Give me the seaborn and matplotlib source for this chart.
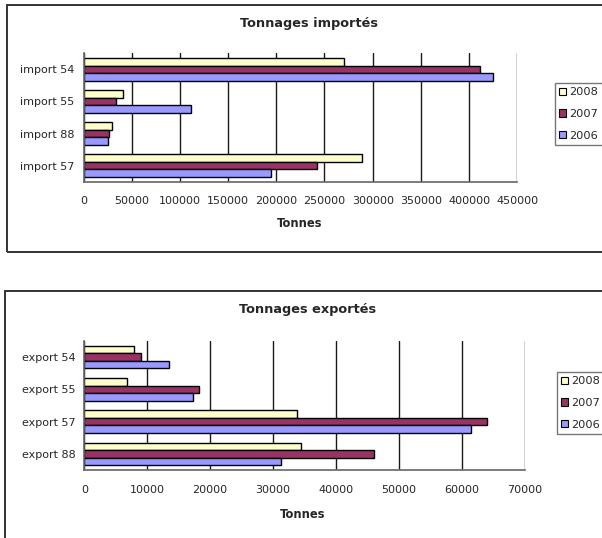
import matplotlib
matplotlib.use("Agg")
import matplotlib.pyplot as plt
from matplotlib.patches import Rectangle, Patch
import seaborn as sns
import pandas as pd

sns.set_style("white")
plt.rcParams["font.family"] = ["DejaVu Sans"]

# Tonnages data
years = ["2008", "2007", "2006"]
colors = {"2008": "#FFFFCC", "2007": "#993366", "2006": "#9999FF"}

import_sites = ["import 54", "import 55", "import 88", "import 57"]
import_2008 = [270500, 41000, 30000, 289000]
import_2007 = [411500, 34000, 26500, 242000]
import_2006 = [425000, 111500, 25000, 194000]

export_sites = ["export 54", "export 55", "export 57", "export 88"]
export_2008 = [7850, 6750, 33800, 34500]
export_2007 = [9050, 18200, 64000, 46000]
export_2006 = [13400, 17250, 61500, 31300]

import_ticks = list(range(0, 450001, 50000))
export_ticks = list(range(0, 70001, 10000))

W, H = 602, 538


def long_frame(sites, v08, v07, v06):
    rows = []
    for year, vals in zip(years, [v08, v07, v06]):
        for s, v in zip(sites, vals):
            rows.append({"site": s, "year": year, "tonnes": v})
    return pd.DataFrame(rows)


def fx(px):
    return px / W


def fy(py):
    return 1 - py / H


fig = plt.figure(figsize=(W / 100, H / 100), dpi=100)

# Chart frames (right side runs past the page edge)
fig.add_artist(Rectangle((fx(7.3), fy(251.7)), 1.0, (251.7 - 4.7) / H,
                         transform=fig.transFigure, fill=False,
                         edgecolor="#333333", linewidth=1.4, clip_on=False))
fig.add_artist(Rectangle((fx(5.3), -0.05), 1.0, 0.05 + fy(290.7),
                         transform=fig.transFigure, fill=False,
                         edgecolor="#333333", linewidth=1.4, clip_on=False))


def draw_panel(box, df, sites, ticks, title, title_xy, xlabel_xy, leg_xy):
    x0, x1, y0, y1 = box
    ax = fig.add_axes([fx(x0), fy(y1), (x1 - x0) / W, (y1 - y0) / H])
    sns.barplot(data=df, x="tonnes", y="site", hue="year", order=sites,
                hue_order=years, palette=colors, orient="h", width=0.7,
                edgecolor="black", linewidth=1.0, ax=ax, legend=False,
                saturation=1)
    ax.set_xlim(0, ticks[-1])
    ax.set_ylim(3.5, -0.5)
    ax.set_xticks(ticks)
    ax.set_xticklabels([str(t) for t in ticks], fontsize=8)
    ax.grid(axis="x", color="#1a1a1a", linewidth=1.0)
    ax.set_axisbelow(True)
    ax.set_ylabel("")
    ax.set_xlabel("")
    ax.tick_params(axis="y", length=0, labelsize=8, pad=6.5)
    ax.set_yticks([i - 0.5 for i in range(len(sites) + 1)], minor=True)
    ax.tick_params(axis="y", which="minor", length=3.5, width=1.0, color="#555555")
    ax.tick_params(axis="x", length=3, width=1.0, color="#555555", pad=7.5)
    for side in ["top", "right"]:
        ax.spines[side].set_visible(False)
    for side in ["left", "bottom"]:
        ax.spines[side].set_color("#666666")
        ax.spines[side].set_linewidth(1.2)
    fig.text(fx(title_xy[0]), fy(title_xy[1]), title, ha="center", va="center",
             fontsize=9.3, fontweight="bold")
    fig.text(fx(xlabel_xy[0]), fy(xlabel_xy[1]), "Tonnes", ha="center",
             va="center", fontsize=8.3, fontweight="bold")
    handles = [Patch(facecolor=colors[y], edgecolor="black", linewidth=0.8, label=y)
               for y in years]
    fig.legend(handles=handles, loc="upper left",
               bbox_to_anchor=(fx(leg_xy[0]), fy(leg_xy[1])),
               frameon=True, fancybox=False, edgecolor="#555555",
               fontsize=8.2, handlelength=0.6, handleheight=0.6,
               handletextpad=0.3, labelspacing=1.03, borderpad=0.4,
               borderaxespad=0.0)
    return ax


draw_panel((83.5, 517.3, 53.3, 181.7),
           long_frame(import_sites, import_2008, import_2007, import_2006),
           import_sites, import_ticks, "Tonnages importés",
           (309.5, 23.5), (300, 223.3), (554.7, 82.7))

draw_panel((84.3, 524.6, 341.0, 470.0),
           long_frame(export_sites, export_2008, export_2007, export_2006),
           export_sites, export_ticks, "Tonnages exportés",
           (308, 309), (302.7, 515), (556.7, 371.7))

fig.savefig("out.png", dpi=100)
